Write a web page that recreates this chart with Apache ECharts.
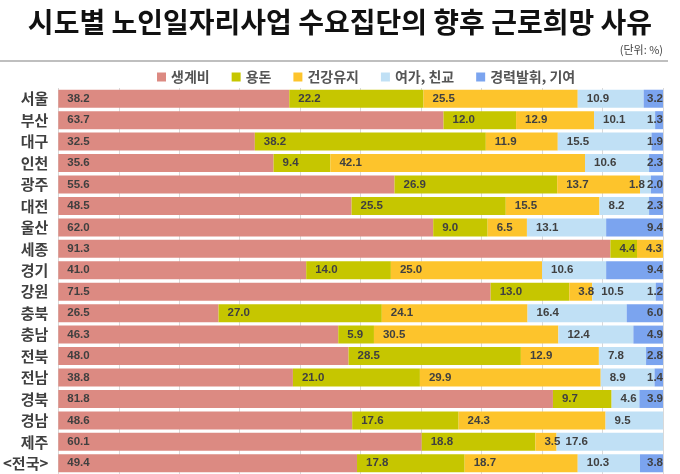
<!DOCTYPE html>
<html><head><meta charset="utf-8">
<script src="https://cdn.jsdelivr.net/npm/echarts@6/dist/echarts.min.js"></script>
<style>html,body{margin:0;padding:0;background:#fff}#c{width:680px;height:474px}</style>
</head><body><div id="c"></div>
<script>
const categories = ['서울','부산','대구','인천','광주','대전','울산','세종','경기','강원','충북','충남','전북','전남','경북','경남','제주','<전국>'];
const livingCost = [38.2,63.7,32.5,35.6,55.6,48.5,62.0,91.3,41.0,71.5,26.5,46.3,48.0,38.8,81.8,48.6,60.1,49.4];
const pocketMoney = [22.2,12.0,38.2,9.4,26.9,25.5,9.0,4.4,14.0,13.0,27.0,5.9,28.5,21.0,9.7,17.6,18.8,17.8];
const health = [25.5,12.9,11.9,42.1,13.7,15.5,6.5,4.3,25.0,3.8,24.1,30.5,12.9,29.9,0,24.3,3.5,18.7];
const leisure = [10.9,10.1,15.5,10.6,1.8,8.2,13.1,0,10.6,10.5,16.4,12.4,7.8,8.9,4.6,9.5,17.6,10.3];
const career = [3.2,1.3,1.9,2.3,2.0,2.3,9.4,0,9.4,1.2,6.0,4.9,2.8,1.4,3.9,0,0,3.8];
const seriesNames = ['생계비','용돈','건강유지','여가, 친교','경력발휘, 기여'];
const xTicks = [0,10,20,30,40,50,60,70,80,90,100];

const colors = ['#dc8a82','#c6c600','#fdc42c','#c0e0f5','#7ba4ef'];
const dataSets = [livingCost,pocketMoney,health,leisure,career];
const chart = echarts.init(document.getElementById('c'));
const labelFmt = p => (p.value ? p.value.toFixed(1) : '');
function seriesData(i){
  return dataSets[i].map((v,j)=>{
    if(i===3 && v<3 && v>0){
      return {value:v,label:{position:'insideRight',distance:0,offset:[-6,0]}};
    }
    return v;
  });
}
chart.setOption({
  animation:false,
  title:[{text:'시도별 노인일자리사업 수요집단의 향후 근로희망 사유',left:'center',top:3,
    textStyle:{fontFamily:'Noto Sans CJK KR',fontSize:28,fontWeight:'bold',color:'#111'}},
    {text:'(단위: %)',right:12,top:39,textStyle:{fontFamily:'Noto Sans CJK KR',fontSize:11,fontWeight:'normal',color:'#444'}}],
  graphic:[{type:'line',shape:{x1:0,y1:61,x2:668,y2:61},style:{stroke:'#aaa',lineWidth:1.5}}],
  legend:{top:65,left:152,itemWidth:9,itemHeight:9,itemGap:22,icon:'rect',
    textStyle:{fontFamily:'Noto Sans CJK KR',fontSize:14,fontWeight:'bold',color:'#555'},data:seriesNames},
  grid:{left:56,right:17,top:88,bottom:0},
  xAxis:{type:'value',min:0,max:100,interval:10,axisLabel:{show:false},axisLine:{show:false},axisTick:{show:false},
    splitLine:{lineStyle:{color:'#d9d9d9'}}},
  yAxis:{type:'category',inverse:true,data:categories,axisLine:{show:false},axisTick:{show:false},
    axisLabel:{fontFamily:'Noto Sans CJK KR',fontSize:15,fontWeight:'bold',color:'#404040',margin:10}},
  series:seriesNames.map((n,i)=>({name:n,type:'bar',stack:'s',barCategoryGap:'16%',data:seriesData(i),
    itemStyle:{color:colors[i]},
    label:{show:true,position:i===4?'insideRight':'insideLeft',distance:i===4?0:9,formatter:labelFmt,
      fontFamily:'Liberation Sans',fontSize:11.5,fontWeight:'bold',color:'#404040'}}))
});
</script></body></html>
